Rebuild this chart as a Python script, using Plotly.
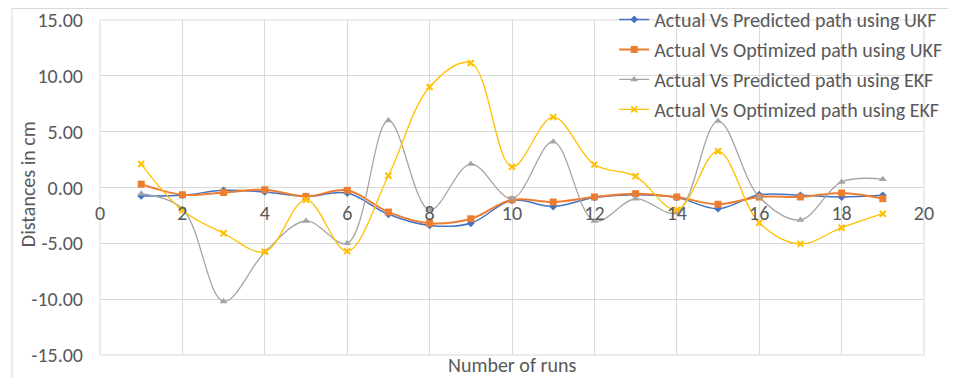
import plotly.graph_objects as go

runs = list(range(1, 20))
ukf_predicted = [-0.75, -0.7, -0.25, -0.4, -0.8, -0.5, -2.4, -3.4, -3.2, -1.15, -1.7, -0.9, -0.65, -0.9, -1.9, -0.65, -0.7, -0.85, -0.7]
ukf_optimized = [0.3, -0.65, -0.45, -0.2, -0.8, -0.25, -2.2, -3.2, -2.8, -1.1, -1.3, -0.85, -0.55, -0.85, -1.5, -0.85, -0.85, -0.5, -1.0]
ekf_predicted = [-0.55, -1.9, -10.2, -5.8, -3.0, -5.0, 6.0, -2.0, 2.1, -1.0, 4.1, -3.0, -1.0, -2.25, 5.95, -0.85, -2.9, 0.5, 0.75]
ekf_optimized = [2.1, -2.05, -4.1, -5.75, -1.1, -5.7, 1.05, 9.0, 11.15, 1.85, 6.3, 2.05, 1.0, -2.0, 3.25, -3.15, -5.05, -3.6, -2.35]

series_names = [
    "Actual Vs Predicted path using UKF",
    "Actual Vs Optimized path using UKF",
    "Actual Vs Predicted path using EKF",
    "Actual Vs Optimized path using EKF",
]

y_tick_vals = [-15, -10, -5, 0, 5, 10, 15]
y_tick_labels = ["-15.00", "-10.00", "-5.00", "0.00", "5.00", "10.00", "15.00"]
x_tick_vals = [0, 2, 4, 6, 8, 10, 12, 14, 16, 18, 20]

TXT = "#595959"
GRID = "#D9D9D9"
FONT = "Carlito, Lato, sans-serif"
FS = 20

fig = go.Figure()

styles = [
    dict(color="#4472C4", width=1.5, symbol="diamond", size=6, mline=0),
    dict(color="#ED7D31", width=2.0, symbol="square", size=7, mline=0),
    dict(color="#A5A5A5", width=1.3, symbol="triangle-up", size=7, mline=0),
    dict(color="#FFC000", width=1.3, symbol="x-thin", size=6, mline=2),
]
data = [ukf_predicted, ukf_optimized, ekf_predicted, ekf_optimized]

for i, (name, vals, st) in enumerate(zip(series_names, data, styles)):
    marker = dict(color=st["color"], symbol=st["symbol"], size=st["size"])
    if st["mline"]:
        marker["line"] = dict(color=st["color"], width=st["mline"])
    else:
        marker["line"] = dict(width=0)
    fig.add_trace(go.Scatter(
        x=runs, y=vals, name=name, mode="lines+markers",
        line=dict(color=st["color"], width=st["width"], shape="spline", smoothing=1.0),
        marker=marker, legendgroup=f"g{i}",
    ))

fig.update_layout(
    width=956, height=378,
    margin=dict(l=92, r=40, t=12, b=31, autoexpand=False),
    paper_bgcolor="white", plot_bgcolor="white",
    font=dict(family=FONT, color=TXT, size=FS),
    showlegend=True,
    legend=dict(
        x=0.624, y=1.06, xanchor="left", yanchor="top",
        bgcolor="rgba(0,0,0,0)", font=dict(size=FS, color=TXT),
        tracegroupgap=1,
    ),
    xaxis=dict(
        range=[0, 20], tickvals=x_tick_vals, showgrid=True, gridcolor=GRID, gridwidth=1,
        zeroline=False, showline=False, anchor="free", position=0.5,
        ticks="outside", ticklen=7, tickcolor="rgba(0,0,0,0)",
        tickfont=dict(size=FS, color=TXT), automargin=False,
    ),
    yaxis=dict(
        range=[-15, 15], tickvals=y_tick_vals, ticktext=y_tick_labels,
        showgrid=True, gridcolor=GRID, gridwidth=1, zeroline=False, showline=False,
        ticks="outside", ticklen=12, tickcolor="rgba(0,0,0,0)",
        tickfont=dict(size=FS, color=TXT), automargin=False,
    ),
    annotations=[
        dict(text="Number of runs", xref="paper", yref="paper", x=0.5, y=-0.0299,
             xanchor="center", yanchor="middle", showarrow=False,
             font=dict(size=FS, color=TXT)),
        dict(text="Distances in cm", xref="paper", yref="paper", x=-0.0874, y=0.51,
             xanchor="center", yanchor="middle", showarrow=False, textangle=-90,
             font=dict(size=FS, color=TXT)),
    ],
    shapes=[
        dict(type="rect", xref="paper", yref="paper", x0=0, x1=1, y0=0, y1=1,
             line=dict(color=GRID, width=1), layer="below"),
        dict(type="rect", xref="paper", yref="paper", x0=-0.1068, x1=1.06, y0=-0.12, y1=1.0343,
             line=dict(color=GRID, width=1), layer="below"),
    ],
)

fig.write_html("out.html")
